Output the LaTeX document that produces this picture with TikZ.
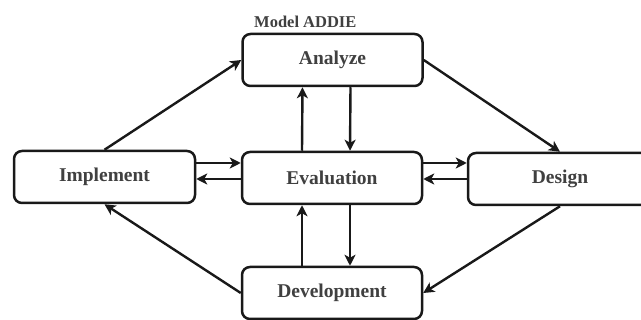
\documentclass[tikz,border=0pt]{standalone}
\usepackage{fontspec}
\setmainfont{Liberation Serif}
\usetikzlibrary{arrows.meta}
\begin{document}
\begin{tikzpicture}[x=1pt,y=-1pt,
  box/.style={draw=black!90, line width=2.5pt, rounded corners=8pt, fill=white,
    minimum width=180pt, minimum height=52pt, inner sep=0pt,
    font=\fontsize{19.5}{22}\selectfont\bfseries, text=black!75},
  arr/.style={line width=2.4pt, draw=black!90, -{Stealth[length=11pt,width=11pt,inset=3pt]}}]
\useasboundingbox (0,0) rectangle (641,320);
\fill[white] (0,0) rectangle (641,320);
\node[box] (an) at (332.5,60) {Analyze};
\node[box] (ev) at (332,178) {Evaluation};
\node[box, minimum width=181pt] (im) at (104.5,177) {Implement};
\node[box, minimum width=184pt] (de) at (560,179) {Design};
\node[box] (dv) at (332,293) {Development};
\node[anchor=south west, inner sep=0pt, font=\fontsize{16.5}{18}\selectfont\bfseries, text=black!75] (title) at (254,28) {Model ADDIE};
\draw[arr] (im.north) -- (an.west);
\draw[arr] (an.east) -- (de.north);
\draw[arr] (de.south) -- (dv.east);
\draw[arr] (dv.west) -- (im.south);
\draw[arr] ([xshift=-30pt]ev.north) -- ([xshift=-30pt]an.south);
\draw[arr] ([xshift=18pt]an.south) -- ([xshift=18pt]ev.north);
\draw[arr] ([xshift=-30pt]dv.north) -- ([xshift=-30pt]ev.south);
\draw[arr] ([xshift=18pt]ev.south) -- ([xshift=18pt]dv.north);
\draw[arr] ([yshift=14pt]im.east) -- ([yshift=14pt]im.east -| ev.west);
\draw[arr] ([yshift=-2pt]im.east -| ev.west) -- ([yshift=-2pt]im.east);
\draw[arr] ([yshift=15pt]ev.east) -- ([yshift=15pt]ev.east -| de.west);
\draw[arr] ([yshift=-1pt]ev.east -| de.west) -- ([yshift=-1pt]ev.east);
\end{tikzpicture}
\end{document}
